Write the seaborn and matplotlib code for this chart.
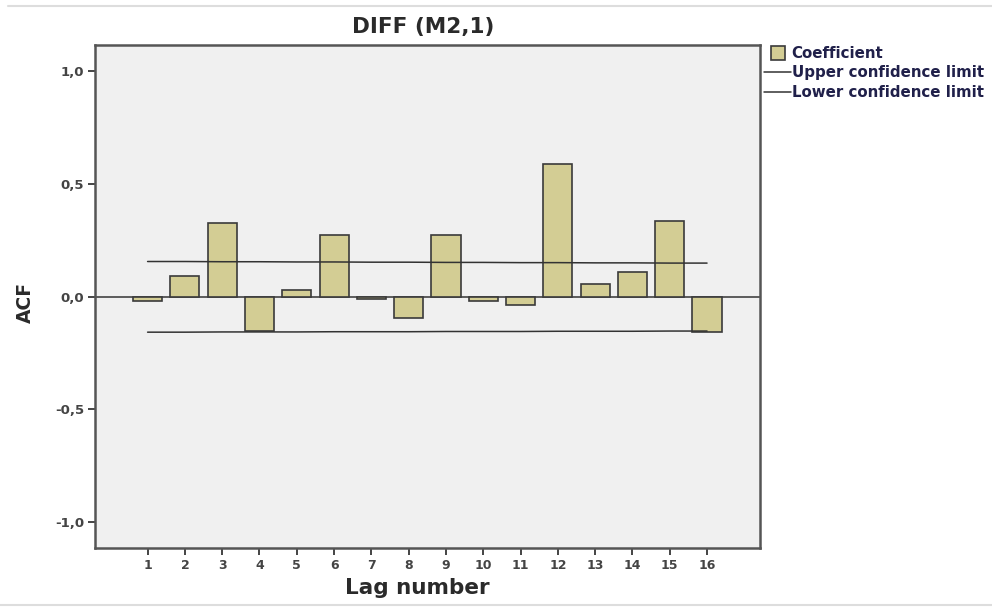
import matplotlib
matplotlib.use("Agg")
import matplotlib.pyplot as plt
from matplotlib.lines import Line2D
import seaborn as sns
import pandas as pd

lags = list(range(1, 17))
acf = [-0.019, 0.093, 0.326, -0.152, 0.030, 0.271, -0.013, -0.097,
       0.274, -0.022, -0.039, 0.586, 0.055, 0.109, 0.336, -0.158]
upper = [0.155, 0.155, 0.154, 0.154, 0.153, 0.153, 0.152, 0.152,
         0.151, 0.151, 0.150, 0.150, 0.149, 0.149, 0.148, 0.148]
lower = [-0.158, -0.158, -0.157, -0.157, -0.157, -0.156, -0.156, -0.156,
         -0.155, -0.155, -0.155, -0.154, -0.154, -0.154, -0.153, -0.153]
yticks = [-1.0, -0.5, 0.0, 0.5, 1.0]
ytick_labels = ["-1,0", "-0,5", "0,0", "0,5", "1,0"]
title = "DIFF (M2,1)"

df = pd.DataFrame({"lag": lags, "acf": acf, "upper": upper, "lower": lower})

sns.set_theme(style="white")
plt.rcParams["font.family"] = ["DejaVu Sans"]

bar_color = "#d3cd94"
edge = "#3a3a3a"
text_c = "#2a2a2a"

fig = plt.figure(figsize=(9.92, 6.07), dpi=100)
ax = fig.add_axes([95 / 992, 1 - 548 / 607, (760 - 95) / 992, (548 - 45) / 607])
ax.set_facecolor("#f0f0f0")

sns.barplot(data=df, x="lag", y="acf", native_scale=True, width=0.78,
            color=bar_color, edgecolor=edge, linewidth=1.2, saturation=1,
            ax=ax, zorder=3)
sns.lineplot(data=df, x="lag", y="upper", color="#333333", linewidth=1.1, ax=ax, zorder=4)
sns.lineplot(data=df, x="lag", y="lower", color="#333333", linewidth=1.1, ax=ax, zorder=4)
ax.axhline(0, color="#333333", linewidth=1.1, zorder=2)

ax.set_xlim(-0.41, 17.42)
ax.set_ylim(-1.114, 1.114)
ax.set_xticks(lags)
ax.set_xticklabels([str(l) for l in lags], fontsize=9, color="#444444",
                   fontweight="bold")
ax.set_yticks(yticks)
ax.set_yticklabels(ytick_labels, fontsize=9.5, color="#444444", fontweight="bold")
ax.tick_params(axis="both", direction="out", length=5, width=1.4, color="#444444",
               bottom=True, left=True, pad=3)
for s in ax.spines.values():
    s.set_color("#555555")
    s.set_linewidth(1.8)
ax.set_xlabel("")
ax.set_ylabel("")

fig.text(423 / 992, 1 - 27 / 607, title, ha="center", va="center",
         fontsize=15.5, fontweight="bold", color=text_c)
fig.text(417 / 992, 1 - 588 / 607, "Lag number", ha="center", va="center",
         fontsize=15.5, fontweight="bold", color=text_c)
fig.text(25 / 992, 1 - 302 / 607, "ACF", ha="center", va="center", rotation=90,
         fontsize=13.5, fontweight="bold", color=text_c)

handles = [
    Line2D([], [], linestyle="none", marker="s", markersize=10,
           markerfacecolor=bar_color, markeredgecolor=edge, markeredgewidth=1.2),
    Line2D([], [], color="#333333", linewidth=1.1),
    Line2D([], [], color="#333333", linewidth=1.1),
]
labels = ["Coefficient", "Upper confidence limit", "Lower confidence limit"]
leg = fig.legend(handles, labels, loc="upper left",
                 bbox_to_anchor=(761 / 992, 1 - 43 / 607), frameon=False,
                 handlelength=1.8, handletextpad=0.05, labelspacing=0.3,
                 borderaxespad=0, borderpad=0.2,
                 prop={"weight": "bold", "size": 10.8})
for t in leg.get_texts():
    t.set_color("#20204a")

fig.add_artist(Line2D([8 / 992, 1], [1 - 6 / 607, 1 - 6 / 607],
                      transform=fig.transFigure, color="#dddddd", linewidth=1.5))
fig.add_artist(Line2D([0, 1], [1 - 605 / 607, 1 - 605 / 607],
                      transform=fig.transFigure, color="#dddddd", linewidth=1.5))

fig.savefig("out.png", dpi=100)
